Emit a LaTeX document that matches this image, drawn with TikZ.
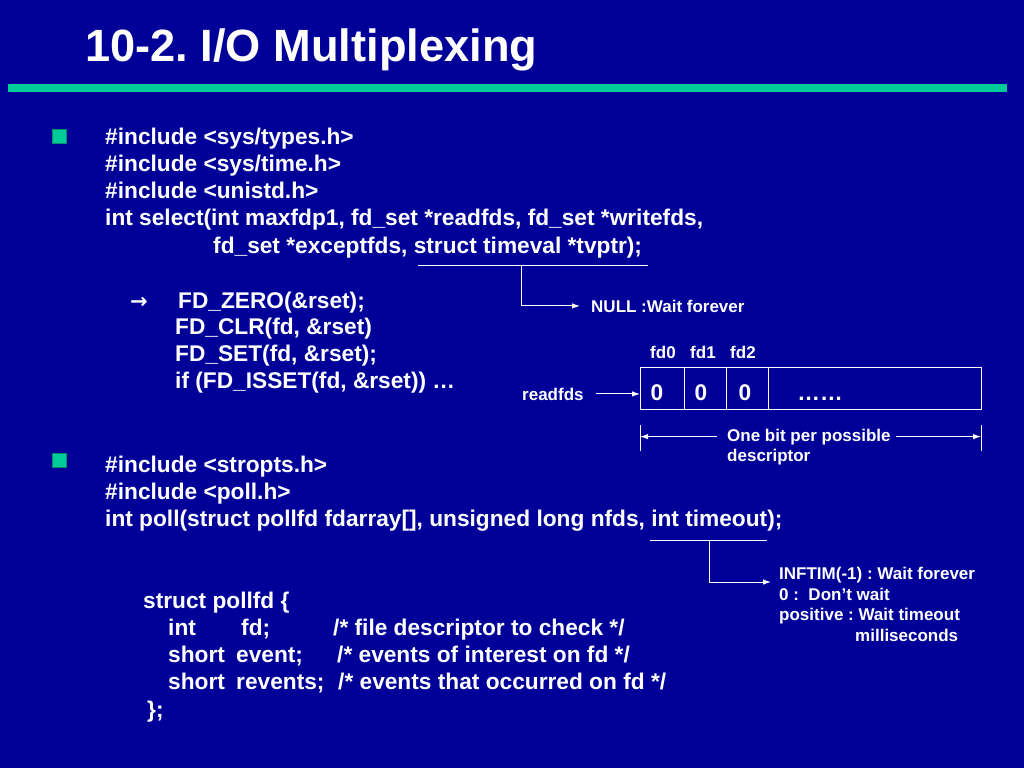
\documentclass[tikz,border=0pt]{standalone}
\usepackage{fontspec}
\setmainfont{Liberation Sans}
\newfontfamily\symfont{DejaVu Sans}
\usetikzlibrary{arrows.meta}
\definecolor{bgblue}{RGB}{0,0,153}
\definecolor{accentteal}{RGB}{0,204,153}
\begin{document}
\frenchspacing
\begin{tikzpicture}[x=1pt,y=-1pt,
  txt/.style={anchor=base west, inner sep=0pt, text=white, font=\bfseries\fontsize{22.7}{27}\selectfont},
  sml/.style={anchor=base west, inner sep=0pt, text=white, font=\bfseries\fontsize{17}{20}\selectfont},
  ttl/.style={anchor=base west, inner sep=0pt, text=white, font=\bfseries\fontsize{45.2}{54}\selectfont},
  bulletbox/.style={fill=accentteal, draw=accentteal!70!black, line width=0.5pt, minimum size=14pt, inner sep=0pt},
  cell/.style={draw=white, line width=1pt, minimum height=42pt, inner sep=0pt, outer sep=0pt, anchor=north west},
  wire/.style={draw=white, line width=1pt},
  arr/.style={wire, -{Latex[length=8pt,width=5.5pt]}}]
\fill[bgblue] (0,0) rectangle (1024,768);
\useasboundingbox (0,0) rectangle (1024,768);

% title and bar
\node[ttl] (title) at (85,62) {10-2. I/O Multiplexing};
\fill[accentteal] (8,84) rectangle (1007,92);

% bullets
\node[bulletbox] (b1) at (59.5,136.5) {};
\node[bulletbox] (b2) at (59.5,460.5) {};

% select section
\node[txt] (l1) at (105,144) {\#include <sys/types.h>};
\node[txt] (l2) at (105,171) {\#include <sys/time.h>};
\node[txt] (l3) at (105,198) {\#include <unistd.h>};
\node[txt] (l4) at (105,225) {int select(int maxfdp1, fd\_set *readfds, fd\_set *writefds,};
\node[txt] (l5) at (213,253) {fd\_set *exceptfds, struct timeval *tvptr);};

\coordinate (u1a) at (418,265);
\coordinate (u1b) at (648,265);
\coordinate (u1m) at (521,265);
\node[sml] (null) at (591,312) {NULL :Wait forever};
\draw[wire] (u1a) -- (u1b);
\draw[arr] (u1m) |- ([xshift=-11pt]null.west);

% FD macros
\node[anchor=base west, inner sep=0pt, text=white, font=\symfont\bfseries\fontsize{21}{24}\selectfont] (ar) at (130,308) {→};
\node[txt] (f1) at (178,308) {FD\_ZERO(\&rset);};
\node[txt] (f2) at (175,334) {FD\_CLR(fd, \&rset)};
\node[txt] (f3) at (175,361) {FD\_SET(fd, \&rset);};
\node[txt] (f4) at (175,388) {if (FD\_ISSET(fd, \&rset)) …};

% readfds bit array
\node[sml] (fd0) at (650,358) {fd0};
\node[sml] (fd1) at (690,358) {fd1};
\node[sml] (fd2) at (730,358) {fd2};
\node[cell, minimum width=44pt] (c0) at (640,367) {};
\node[cell, minimum width=42pt] (c1) at (c0.north east) {};
\node[cell, minimum width=42pt] (c2) at (c1.north east) {};
\node[cell, minimum width=213pt] (c3) at (c2.north east) {};
\node[txt, anchor=base] (z0) at (657,400) {0};
\node[txt, anchor=base] (z1) at (701,400) {0};
\node[txt, anchor=base] (z2) at (745,400) {0};
\node[txt, anchor=base] (dots) at (820,400) {……};
\node[sml] (rfd) at (522,400) {readfds};
\draw[arr] ([xshift=12pt]rfd.east) -- (c0.west |- rfd.east);

% dimension
\coordinate (t1a) at (640,425);
\coordinate (t1b) at (640,451);
\coordinate (t2a) at (981,425);
\coordinate (t2b) at (981,451);
\draw[wire] (t1a) -- (t1b);
\draw[wire] (t2a) -- (t2b);
\node[sml] (dim1) at (727,441) {One bit per possible};
\node[sml] (dim2) at (727,461) {descriptor};
\draw[arr] ([xshift=-10pt]dim1.west) -- (t1a |- dim1.west);
\draw[arr] ([xshift=5pt]dim1.east) -- (t2a |- dim1.west);

% poll section
\node[txt] (p1) at (105,472) {\#include <stropts.h>};
\node[txt] (p2) at (105,499) {\#include <poll.h>};
\node[txt] (p3) at (105,526) {int poll(struct pollfd fdarray[], unsigned long nfds, int timeout);};

\coordinate (u2a) at (650,540);
\coordinate (u2b) at (767,540);
\coordinate (u2m) at (709,540);
\node[sml] (i1) at (779,579) {INFTIM(-1) : Wait forever};
\node[sml] (i2) at (779,600) {0 :~~Don’t wait};
\node[sml] (i3) at (779,620) {positive : Wait timeout};
\node[sml] (i4) at (855,641) {milliseconds};
\draw[wire] (u2a) -- (u2b);
\draw[arr] (u2m) |- ([xshift=-8pt]i1.west |- 0,582);

% struct pollfd
\node[txt] (s1) at (143,608) {struct pollfd \{};
\node[txt] (s2a) at (168,635) {int};
\node[txt] (s2b) at (241,635) {fd;};
\node[txt] (s2c) at (333,635) {/* file descriptor to check */};
\node[txt] (s3a) at (168,662) {short};
\node[txt] (s3b) at (236,662) {event;};
\node[txt] (s3c) at (337,662) {/* events of interest on fd */};
\node[txt] (s4a) at (168,689) {short};
\node[txt] (s4b) at (236,689) {revents;};
\node[txt] (s4c) at (338,689) {/* events that occurred on fd */};
\node[txt] (s5) at (147,717) {\};};
\end{tikzpicture}
\end{document}
